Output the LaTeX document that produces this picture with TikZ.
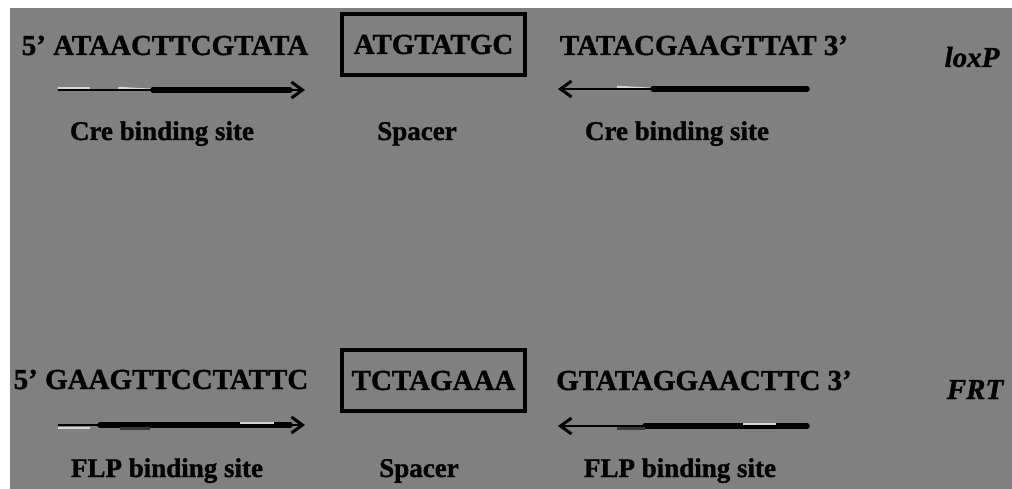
\documentclass[tikz,border=0pt]{standalone}
\usepackage{fontspec}
\setmainfont{Liberation Serif}[BoldFeatures={FakeBold=1.2},BoldItalicFeatures={FakeBold=1.2}]
\usetikzlibrary{arrows.meta}
\definecolor{bg}{HTML}{808080}
\definecolor{hl}{HTML}{D6D6D6}
\definecolor{dk}{HTML}{3A3A3A}
\begin{document}
\begin{tikzpicture}[x=1pt,y=-1pt,
  seq/.style={font=\fontsize{29}{29}\selectfont\bfseries, inner sep=0pt, anchor=base},
  lab/.style={font=\fontsize{27}{27}\selectfont\bfseries, inner sep=0pt, anchor=base},
  tag/.style={font=\fontsize{29}{29}\selectfont\bfseries\itshape, inner sep=0pt, anchor=base},
  spacerbox/.style={draw=black, line width=4pt, minimum width=183pt, minimum height=61pt, inner sep=0pt,
    font=\fontsize{29}{29}\selectfont\bfseries},
  thinline/.style={line width=1.8pt},
  thickline/.style={line width=5.5pt, line cap=round},
  arrowtip/.style={-{Straight Barb[length=11pt,width=16pt,line width=3pt]}},
  hilite/.style={hl, line width=2.5pt},
  shade/.style={dk, line width=3pt}]
\useasboundingbox (0,0) rectangle (1012,489);
\fill[white] (0,0) rectangle (1012,489);
\fill[bg] (10,8) rectangle (1012,489);

% ---------- loxP ----------
\node[seq] (l5) at (165,55) {5’ ATAACTTCGTATA};
\node[spacerbox] (lsp) at (433.5,44.5) {ATGTATGC};
\node[seq] (l3) at (704,55) {TATACGAAGTTAT 3’};
\node[tag] (lox) at (972,67) {loxP};

\coordinate (a1s) at (58,90);
\coordinate (a1e) at (305,90);
\coordinate (a1m) at (153,90);
\coordinate (a1t) at (290,90);
\draw[hilite] ([yshift=2]a1s) -- ++(32,0);
\draw[hilite] (118,88) -- (a1m);
\draw[thickline] (a1m) -- (a1t);
\draw[thinline, arrowtip] (a1s) -- (a1e);

\coordinate (a2s) at (807,89);
\coordinate (a2e) at (558,89);
\coordinate (a2m) at (653,89);
\draw[hilite] (617,87) -- (a2m);
\draw[thickline] (a2s) -- (a2m);
\draw[thinline, arrowtip] (a2s) -- (a2e);

\node[lab] (lc1) at (162,140) {Cre binding site};
\node[lab] (lsl) at (417,140) {Spacer};
\node[lab] (lc2) at (677,140) {Cre binding site};

% ---------- FRT ----------
\node[seq] (f5) at (161,389) {5’ GAAGTTCCTATTC};
\node[spacerbox] (fsp) at (433.5,380.5) {TCTAGAAA};
\node[seq] (f3) at (704,390) {GTATAGGAACTTC 3’};
\node[tag] (frt) at (975,399) {FRT};

\coordinate (b1s) at (58,425);
\coordinate (b1e) at (305,425);
\coordinate (b1m) at (100,425);
\coordinate (b1t) at (290,425);
\draw[thickline] (b1m) -- (b1t);
\draw[hilite] (58,428) -- (90,428);
\draw[shade] (120,428) -- (150,428);
\draw[hilite] (240,423) -- (274,423);
\draw[thinline, arrowtip] (b1s) -- (b1e);

\coordinate (b2s) at (807,426);
\coordinate (b2e) at (558,426);
\coordinate (b2m) at (645,426);
\draw[thickline] (b2s) -- (b2m);
\draw[shade] (617,428) -- (645,428);
\draw[hilite] (743,424) -- (776,424);
\draw[thinline, arrowtip] (b2s) -- (b2e);

\node[lab] (fb1) at (167,477) {FLP binding site};
\node[lab] (fsl) at (419,477) {Spacer};
\node[lab] (fb2) at (680,477) {FLP binding site};
\end{tikzpicture}
\end{document}
